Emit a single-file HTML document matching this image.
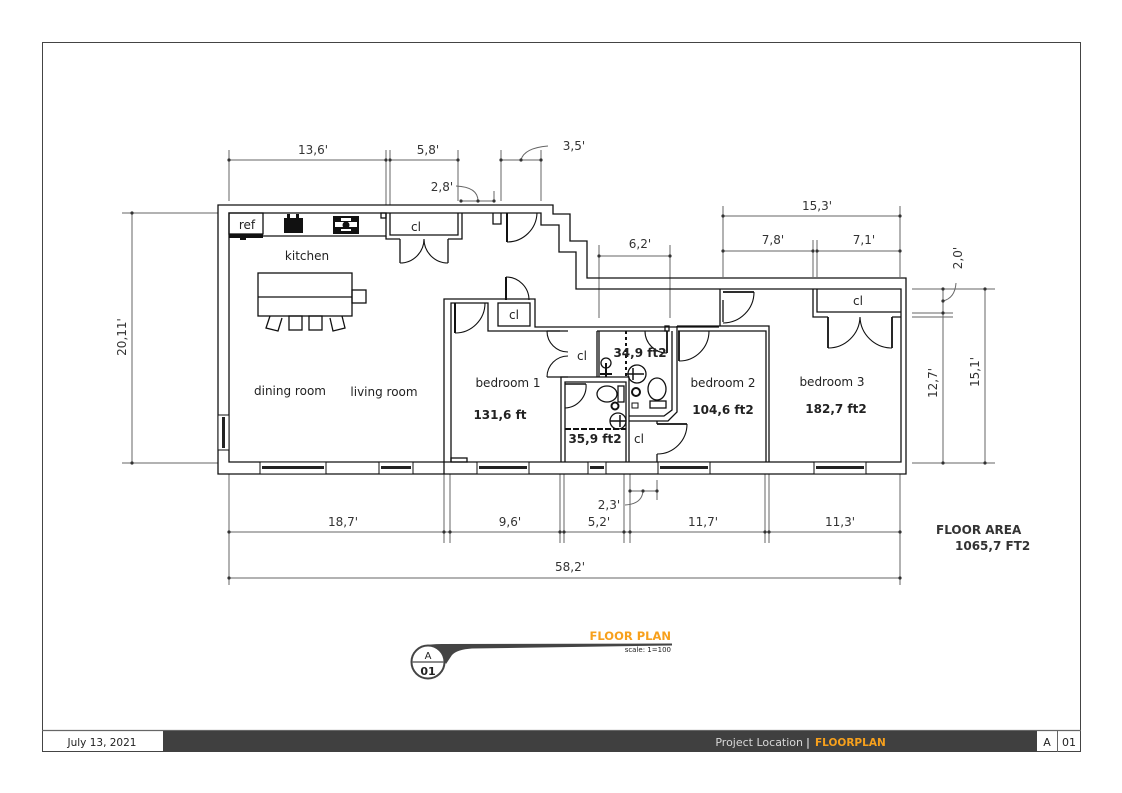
<!DOCTYPE html>
<html><head><meta charset="utf-8"><style>
html,body{margin:0;padding:0;background:#fff;}
svg{display:block;}
text{font-family:"DejaVu Sans","Liberation Sans",sans-serif;}
</style></head><body>
<svg width="1122" height="793" viewBox="0 0 1122 793" xmlns="http://www.w3.org/2000/svg">
<rect x="0" y="0" width="1122" height="793" fill="#fff"/>
<!-- frame -->
<rect x="42.5" y="42.5" width="1038" height="709" fill="none" stroke="#444" stroke-width="1"/>
<line x1="42" y1="730.5" x2="1081" y2="730.5" stroke="#666" stroke-width="1.2"/>
<rect x="163" y="731" width="874" height="21" fill="#404040"/>
<line x1="1057.5" y1="731" x2="1057.5" y2="752" stroke="#666"/>
<text x="102" y="746" font-size="10.5" fill="#222" text-anchor="middle">July 13, 2021</text>
<text x="803" y="746" font-size="11" fill="#d8d8d8" text-anchor="end">Project Location</text>
<text x="808" y="746" font-size="11" fill="#fff" text-anchor="middle">|</text>
<text x="815" y="746" font-size="10.5" font-weight="bold" fill="#f7a01c">FLOORPLAN</text>
<text x="1047" y="746" font-size="11" fill="#222" text-anchor="middle">A</text>
<text x="1069" y="746" font-size="11" fill="#222" text-anchor="middle">01</text>

<!-- title -->
<path d="M422,646 Q430,644 442,644 L672,643.5 L672,645.5 L472,648.5 Q457,649.5 452,655 L446,664 Q440,650 422,646 Z" fill="#444"/>
<circle cx="428" cy="662" r="16.5" fill="#fff" stroke="#444" stroke-width="2"/>
<line x1="412" y1="662" x2="444" y2="662" stroke="#666" stroke-width="1.5"/>
<text x="428" y="659" font-size="10" fill="#222" text-anchor="middle">A</text>
<text x="428" y="675" font-size="11" font-weight="bold" fill="#222" text-anchor="middle">01</text>
<text x="671" y="640" font-size="11.5" font-weight="bold" fill="#f7a01c" text-anchor="end">FLOOR PLAN</text>
<text x="671" y="652" font-size="7" fill="#222" text-anchor="end">scale: 1=100</text>

<!-- dimension lines -->
<g stroke="#666" stroke-width="1" fill="none">
  <!-- top -->
  <line x1="229" y1="150" x2="229" y2="201"/>
  <line x1="386" y1="150" x2="386" y2="205"/>
  <line x1="390" y1="150" x2="390" y2="205"/>
  <line x1="458" y1="150" x2="458" y2="201"/>
  <line x1="229" y1="160" x2="386" y2="160"/>
  <line x1="390" y1="160" x2="458" y2="160"/>
  <line x1="461" y1="201" x2="494" y2="201"/>
  <line x1="494" y1="191" x2="494" y2="202"/>
  <path d="M478,201 Q478,187 456,186"/>
  <line x1="501" y1="150" x2="501" y2="201"/>
  <line x1="541" y1="150" x2="541" y2="201"/>
  <line x1="501" y1="160" x2="541" y2="160"/>
  <path d="M521,160 Q524,148 548,146"/>
  <line x1="599" y1="245" x2="599" y2="318"/>
  <line x1="670" y1="245" x2="670" y2="318"/>
  <line x1="599" y1="256" x2="670" y2="256"/>
  <line x1="723" y1="206" x2="723" y2="277"/>
  <line x1="900" y1="206" x2="900" y2="277"/>
  <line x1="723" y1="216" x2="900" y2="216"/>
  <line x1="813" y1="240" x2="813" y2="277"/>
  <line x1="817" y1="240" x2="817" y2="277"/>
  <line x1="723" y1="251" x2="813" y2="251"/>
  <line x1="817" y1="251" x2="900" y2="251"/>
  <!-- left -->
  <line x1="122" y1="213" x2="218" y2="213"/>
  <line x1="122" y1="463" x2="218" y2="463"/>
  <line x1="132" y1="213" x2="132" y2="463"/>
  <!-- right -->
  <line x1="912" y1="289" x2="995" y2="289"/>
  <line x1="912" y1="313" x2="953" y2="313"/>
  <line x1="912" y1="317" x2="953" y2="317"/>
  <line x1="912" y1="463" x2="995" y2="463"/>
  <line x1="943" y1="289" x2="943" y2="463"/>
  <line x1="985" y1="289" x2="985" y2="463"/>
  <path d="M943,301 Q955,298 956,283"/>
  <!-- bottom -->
  <line x1="229" y1="474" x2="229" y2="585"/>
  <line x1="900" y1="474" x2="900" y2="585"/>
  <line x1="444" y1="474" x2="444" y2="543"/>
  <line x1="450" y1="474" x2="450" y2="543"/>
  <line x1="560" y1="474" x2="560" y2="543"/>
  <line x1="564" y1="474" x2="564" y2="543"/>
  <line x1="624" y1="474" x2="624" y2="543"/>
  <line x1="630" y1="474" x2="630" y2="543"/>
  <line x1="765" y1="474" x2="765" y2="543"/>
  <line x1="769" y1="474" x2="769" y2="543"/>
  <line x1="229" y1="532" x2="900" y2="532"/>
  <line x1="229" y1="578" x2="900" y2="578"/>
  <line x1="630" y1="491" x2="657" y2="491"/>
  <line x1="657" y1="480" x2="657" y2="500"/>
  <path d="M643,491 Q642,504 625,505"/>
</g>
<g fill="#333">
  <circle cx="229" cy="160" r="1.6"/><circle cx="386" cy="160" r="1.6"/><circle cx="390" cy="160" r="1.6"/><circle cx="458" cy="160" r="1.6"/>
  <circle cx="461" cy="201" r="1.6"/><circle cx="478" cy="201" r="1.6"/><circle cx="494" cy="201" r="1.6"/>
  <circle cx="501" cy="160" r="1.6"/><circle cx="521" cy="160" r="1.6"/><circle cx="541" cy="160" r="1.6"/>
  <circle cx="599" cy="256" r="1.6"/><circle cx="670" cy="256" r="1.6"/>
  <circle cx="723" cy="216" r="1.6"/><circle cx="900" cy="216" r="1.6"/>
  <circle cx="723" cy="251" r="1.6"/><circle cx="813" cy="251" r="1.6"/><circle cx="817" cy="251" r="1.6"/><circle cx="900" cy="251" r="1.6"/>
  <circle cx="132" cy="213" r="1.6"/><circle cx="132" cy="463" r="1.6"/>
  <circle cx="943" cy="289" r="1.6"/><circle cx="943" cy="301" r="1.6"/><circle cx="943" cy="313" r="1.6"/><circle cx="943" cy="463" r="1.6"/>
  <circle cx="985" cy="289" r="1.6"/><circle cx="985" cy="463" r="1.6"/>
  <circle cx="229" cy="532" r="1.6"/><circle cx="444" cy="532" r="1.6"/><circle cx="450" cy="532" r="1.6"/><circle cx="560" cy="532" r="1.6"/><circle cx="564" cy="532" r="1.6"/><circle cx="624" cy="532" r="1.6"/><circle cx="630" cy="532" r="1.6"/><circle cx="765" cy="532" r="1.6"/><circle cx="769" cy="532" r="1.6"/><circle cx="900" cy="532" r="1.6"/>
  <circle cx="229" cy="578" r="1.6"/><circle cx="900" cy="578" r="1.6"/>
  <circle cx="630" cy="491" r="1.6"/><circle cx="643" cy="491" r="1.6"/><circle cx="657" cy="491" r="1.6"/>
</g>
<g font-size="12" fill="#333" text-anchor="middle">
  <text x="313" y="154">13,6'</text>
  <text x="428" y="154">5,8'</text>
  <text x="442" y="191">2,8'</text>
  <text x="574" y="150">3,5'</text>
  <text x="640" y="248">6,2'</text>
  <text x="817" y="210">15,3'</text>
  <text x="773" y="244">7,8'</text>
  <text x="864" y="244">7,1'</text>
  <text transform="translate(962,258) rotate(-90)">2,0'</text>
  <text transform="translate(937,383) rotate(-90)">12,7'</text>
  <text transform="translate(979,372) rotate(-90)">15,1'</text>
  <text transform="translate(126,337) rotate(-90)">20,11'</text>
  <text x="343" y="526">18,7'</text>
  <text x="510" y="526">9,6'</text>
  <text x="599" y="526">5,2'</text>
  <text x="609" y="509">2,3'</text>
  <text x="703" y="526">11,7'</text>
  <text x="840" y="526">11,3'</text>
  <text x="570" y="571">58,2'</text>
</g>
<text x="936" y="534" font-size="12" font-weight="bold" fill="#333">FLOOR AREA</text>
<text x="955" y="550" font-size="12" font-weight="bold" fill="#333">1065,7 FT2</text>

<!-- walls -->
<g stroke="#111" stroke-width="1.3" fill="none">
  <path d="M218,474 V205 H553 V214 H570 V241 H587 V278 H906 V474 Z"/>
  <path d="M229,462 V213 H541 V225 H559 V252 H576 V289 H901 V462 Z"/>
  <!-- kitchen counter -->
  <path d="M229,236 H386 V213"/>
  <rect x="381" y="213" width="5" height="5"/>
  <!-- kitchen closet -->
  <path d="M386,236 V239 H400 M448,239 H462 V213"/>
  <path d="M390,213 V235 H458 V213"/>
  <path d="M400,239 V263 M448,239 V263"/>
  <path d="M400,263 A24,24 0 0 0 424,239 M448,263 A24,24 0 0 1 424,239" stroke-width="1.1"/>
  <!-- notch -->
  <path d="M493,213 V224 H501 V213"/>
  <!-- entrance door -->
  <path d="M507,213 V242" stroke-width="2"/>
  <path d="M507,242 A30,30 0 0 0 537,213" stroke-width="1.1"/>
  <!-- bedroom1 / closet -->
  <path d="M444,474 V299 H535 V327 H719"/>
  <path d="M451,462 V303 H488 V331 H560"/>
  <rect x="498" y="303" width="32" height="23"/>
  <path d="M455,303 V333" stroke-width="2"/>
  <path d="M455,333 A30,30 0 0 0 485,303" stroke-width="1.1"/>
  <path d="M506,300 V277" stroke-width="2"/>
  <path d="M506,277 A23,23 0 0 1 529,300" stroke-width="1.1"/>
  <!-- hall lines -->
  <path d="M597,331 H667 M597,331 V377 M599,331 V377"/>
  <!-- closet double doors -->
  <path d="M547,331 H568 M547,377 H568"/>
  <path d="M547,331 A21,21 0 0 0 568,352 M547,377 A21,21 0 0 1 568,356" stroke-width="1.1"/>
  <!-- bath 1 -->
  <path d="M561,462 V377 H629 V462"/>
  <path d="M565,462 V382 H626 V462"/>
  <path d="M565,384 H586" stroke-width="1.6"/>
  <path d="M586,384 A22,22 0 0 1 565,408" stroke-width="1.1"/>
  <line x1="565" y1="429" x2="626" y2="429" stroke-width="2" stroke-dasharray="6,2"/>
  <ellipse cx="607" cy="394" rx="10" ry="8"/>
  <rect x="618" y="386" width="6" height="16"/>
  <circle cx="615" cy="406" r="3.5" stroke-width="2"/>
  <circle cx="618" cy="421" r="8"/>
  <path d="M610,421 H626 M620,415 V427" stroke-width="1.5"/>
  <!-- bath 2 -->
  <line x1="626" y1="331" x2="626" y2="377" stroke-width="2" stroke-dasharray="3,3"/>
  <path d="M672,331 V410 L664,416 H629"/>
  <path d="M677,326 V412 L668,421 H629"/>
  <ellipse cx="657" cy="389" rx="9" ry="11"/>
  <rect x="650" y="401" width="16" height="7"/>
  <circle cx="636" cy="392" r="4" stroke-width="2"/>
  <circle cx="637" cy="374" r="9"/>
  <path d="M627,374 H644 M633,368 V380" stroke-width="1.5"/>
  <circle cx="606" cy="363" r="5"/>
  <path d="M606,363 V377 M600,374 H612" stroke-width="2"/>
  <rect x="632" y="403" width="6" height="5" stroke-width="1"/>
  <!-- bath2 door -->
  <path d="M667,331 V353" stroke-width="1.8"/>
  <path d="M645,331 A22,22 0 0 0 667,353" stroke-width="1.1"/>
  <rect x="665" y="326" width="4" height="5"/>
  <!-- closet below bath2 -->
  <path d="M657,421 V424 M657,454 V462"/>
  <path d="M657,424 H687" stroke-width="1.8"/>
  <path d="M687,424 A30,30 0 0 1 657,454" stroke-width="1.1"/>
  <!-- bedroom 2 -->
  <path d="M677,326 H769 V462"/>
  <path d="M678,331 H766 V462"/>
  <path d="M679,331 V361" stroke-width="1.8"/>
  <path d="M679,361 A30,30 0 0 0 709,331" stroke-width="1.1"/>
  <!-- hall door -->
  <path d="M720,289 V326 M723,300 V322"/>
  <path d="M723,292 H754" stroke-width="1.8"/>
  <path d="M754,292 A31,31 0 0 1 723,323" stroke-width="1.1"/>
  <!-- bedroom 3 closet -->
  <path d="M813,289 V317 H828 M892,317 H901"/>
  <path d="M817,289 V312 H901"/>
  <path d="M828,317 V348 M892,317 V348" stroke-width="1.8"/>
  <path d="M828,348 A32,32 0 0 0 860,317 M892,348 A32,32 0 0 1 860,317" stroke-width="1.1"/>
  <!-- bump -->
  <rect x="451" y="458" width="16" height="4"/>
  <!-- dining table -->
  <rect x="258" y="273" width="94" height="43"/>
  <line x1="258" y1="297" x2="352" y2="297"/>
  <rect x="352" y="290" width="14" height="13"/>
  <path d="M270,316 L266,328 L278,331 L282,318"/>
  <rect x="289" y="316" width="13" height="14"/>
  <rect x="309" y="316" width="13" height="14"/>
  <path d="M330,318 L333,331 L345,328 L342,316"/>
  <!-- ref -->
  <rect x="229" y="213" width="34" height="21"/>
</g>
<!-- ref bar -->
<rect x="229" y="234" width="34" height="4" fill="#111"/>
<rect x="240" y="237" width="6" height="3" fill="#111"/>
<!-- sink -->
<rect x="284" y="218" width="19" height="15" fill="#111"/>
<rect x="287" y="214" width="3" height="4" fill="#111"/>
<rect x="296" y="214" width="3" height="4" fill="#111"/>
<!-- stove -->
<rect x="333" y="216" width="26" height="18" fill="#111"/>
<rect x="341" y="218" width="10" height="3" fill="#fff"/>
<rect x="335" y="222" width="22" height="5" fill="#fff"/>
<circle cx="346" cy="225" r="3.5" fill="#111"/>
<rect x="341" y="229" width="10" height="2" fill="#fff"/>

<!-- windows -->
<g stroke="#111" stroke-width="1" fill="#fff">
  <rect x="260" y="462" width="66" height="12"/>
  <rect x="379" y="462" width="34" height="12"/>
  <rect x="477" y="462" width="52" height="12"/>
  <rect x="588" y="462" width="18" height="12"/>
  <rect x="658" y="462" width="52" height="12"/>
  <rect x="814" y="462" width="52" height="12"/>
  <rect x="218" y="415" width="11" height="35"/>
</g>
<g fill="#222">
  <rect x="262" y="466" width="62" height="3"/>
  <rect x="381" y="466" width="30" height="3"/>
  <rect x="479" y="466" width="48" height="3"/>
  <rect x="590" y="466" width="14" height="3"/>
  <rect x="660" y="466" width="48" height="3"/>
  <rect x="816" y="466" width="48" height="3"/>
  <rect x="222" y="417" width="3" height="31"/>
</g>

<!-- labels -->
<g font-size="12" fill="#222" text-anchor="middle">
  <text x="247" y="229">ref</text>
  <text x="307" y="260">kitchen</text>
  <text x="416" y="231">cl</text>
  <text x="514" y="319">cl</text>
  <text x="290" y="395">dining  room</text>
  <text x="384" y="396">living room</text>
  <text x="508" y="387">bedroom 1</text>
  <text x="582" y="360">cl</text>
  <text x="639" y="443">cl</text>
  <text x="723" y="387">bedroom 2</text>
  <text x="832" y="386">bedroom 3</text>
  <text x="858" y="305">cl</text>
</g>
<g font-size="12" font-weight="bold" fill="#222" text-anchor="middle">
  <text x="500" y="419">131,6 ft</text>
  <text x="640" y="357">34,9 ft2</text>
  <text x="595" y="443">35,9 ft2</text>
  <text x="723" y="414">104,6 ft2</text>
  <text x="836" y="413">182,7 ft2</text>
</g>
</svg>
</body></html>
